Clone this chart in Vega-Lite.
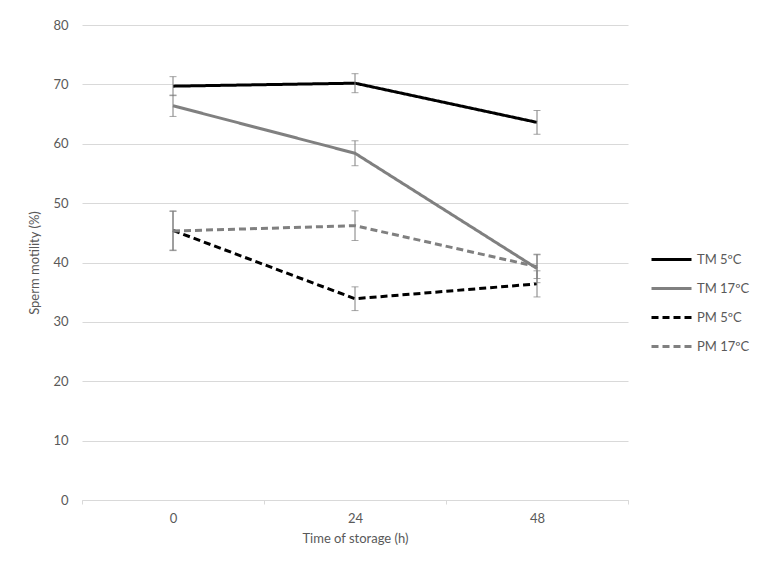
{
  "$schema": "https://vega.github.io/schema/vega-lite/v6.json",
  "autosize": "none",
  "width": 546,
  "height": 475,
  "padding": {"left": 82, "top": 25, "right": 143, "bottom": 79},
  "background": "white",
  "config": {
    "font": "Lato",
    "view": {"stroke": null},
    "axis": {"labelColor": "#595959", "titleColor": "#595959", "labelFontSize": 13, "titleFontSize": 13, "titleFontWeight": "normal", "labelFont": "Lato", "titleFont": "Lato"}
  },
  "data": {
    "values": [
      {"series": "TM 5ºC", "time": "0", "mean": 69.7, "lo": 68.1, "hi": 71.3},
      {"series": "TM 5ºC", "time": "24", "mean": 70.2, "lo": 68.6, "hi": 71.8},
      {"series": "TM 5ºC", "time": "48", "mean": 63.6, "lo": 61.6, "hi": 65.6},
      {"series": "TM 17ºC", "time": "0", "mean": 66.4, "lo": 64.6, "hi": 68.2},
      {"series": "TM 17ºC", "time": "24", "mean": 58.4, "lo": 56.3, "hi": 60.5},
      {"series": "TM 17ºC", "time": "48", "mean": 39.0, "lo": 36.6, "hi": 41.4},
      {"series": "PM 5ºC", "time": "0", "mean": 45.4, "lo": 42.1, "hi": 48.7},
      {"series": "PM 5ºC", "time": "24", "mean": 33.9, "lo": 31.9, "hi": 35.9},
      {"series": "PM 5ºC", "time": "48", "mean": 36.4, "lo": 34.2, "hi": 38.6},
      {"series": "PM 17ºC", "time": "0", "mean": 45.3, "lo": 42.0, "hi": 48.6},
      {"series": "PM 17ºC", "time": "24", "mean": 46.2, "lo": 43.7, "hi": 48.7},
      {"series": "PM 17ºC", "time": "48", "mean": 39.3, "lo": 37.3, "hi": 41.3}
    ]
  },
  "encoding": {
    "x": {
      "field": "time", "type": "nominal", "sort": ["0", "24", "48"],
      "scale": {"paddingInner": 0, "paddingOuter": 0},
      "axis": {"title": "Time of storage (h)", "labelAngle": 0, "tickBand": "extent", "domainColor": "#d9d9d9", "tickColor": "#d9d9d9", "tickSize": 4, "labelPadding": 8, "titlePadding": 7, "grid": false}
    }
  },
  "layer": [
    {
      "mark": {"type": "line", "strokeWidth": 3},
      "encoding": {
        "y": {
          "field": "mean", "type": "quantitative",
          "scale": {"domain": [0, 80]},
          "axis": {"title": "Sperm motility (%)", "values": [0,10,20,30,40,50,60,70,80], "labelOverlap": false, "domain": false, "ticks": false, "gridColor": "#d9d9d9", "gridWidth": 1, "labelPadding": 14, "titlePadding": 11}
        },
        "color": {
          "field": "series", "type": "nominal",
          "scale": {"domain": ["TM 5ºC", "TM 17ºC", "PM 5ºC", "PM 17ºC"], "range": ["#000000", "#808080", "#000000", "#808080"]},
          "legend": {"title": null, "orient": "none", "legendX": 568, "legendY": 213, "symbolType": "stroke", "symbolSize": 1600, "symbolStrokeWidth": 3, "rowPadding": -18, "labelColor": "#595959", "labelFontSize": 13, "labelFont": "Lato", "labelOffset": 4, "labelLimit": 0, "columns": 1, "labelBaseline": "middle"}
        },
        "strokeDash": {
          "field": "series", "type": "nominal",
          "scale": {"domain": ["TM 5ºC", "TM 17ºC", "PM 5ºC", "PM 17ºC"], "range": [[1, 0], [1, 0], [7, 4], [7, 4]]},
          "legend": null
        }
      }
    },
    {
      "mark": {"type": "rule", "color": "#7f7f7f", "strokeWidth": 1},
      "encoding": {
        "y": {"field": "lo", "type": "quantitative", "scale": {"domain": [0, 80]}, "axis": {"title": "Sperm motility (%)", "values": [0,10,20,30,40,50,60,70,80], "labelOverlap": false, "domain": false, "ticks": false, "gridColor": "#d9d9d9", "gridWidth": 1, "labelPadding": 14, "titlePadding": 11}},
        "y2": {"field": "hi"},
        "detail": {"field": "series"}
      }
    },
    {
      "mark": {"type": "tick", "color": "#7f7f7f", "thickness": 1, "size": 7, "orient": "horizontal"},
      "encoding": {
        "y": {"field": "lo", "type": "quantitative", "scale": {"domain": [0, 80]}, "axis": {"title": "Sperm motility (%)", "values": [0,10,20,30,40,50,60,70,80], "labelOverlap": false, "domain": false, "ticks": false, "gridColor": "#d9d9d9", "gridWidth": 1, "labelPadding": 14, "titlePadding": 11}},
        "detail": {"field": "series"}
      }
    },
    {
      "mark": {"type": "tick", "color": "#7f7f7f", "thickness": 1, "size": 7, "orient": "horizontal"},
      "encoding": {
        "y": {"field": "hi", "type": "quantitative", "scale": {"domain": [0, 80]}, "axis": {"title": "Sperm motility (%)", "values": [0,10,20,30,40,50,60,70,80], "labelOverlap": false, "domain": false, "ticks": false, "gridColor": "#d9d9d9", "gridWidth": 1, "labelPadding": 14, "titlePadding": 11}},
        "detail": {"field": "series"}
      }
    }
  ]
}
